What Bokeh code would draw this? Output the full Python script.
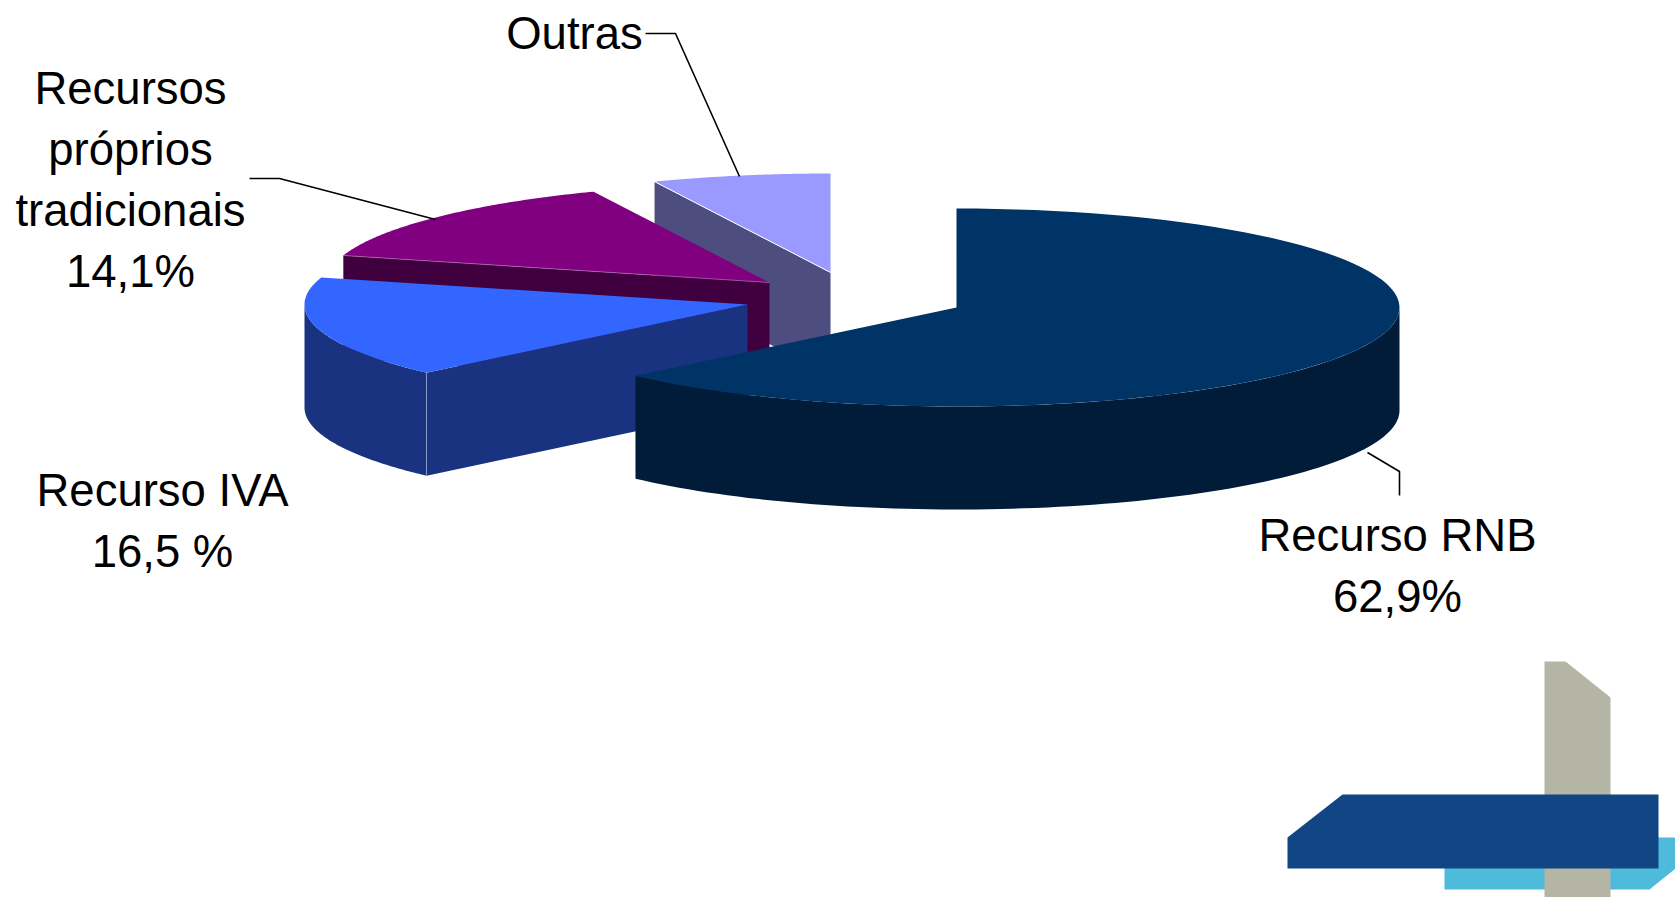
import numpy as np
from bokeh.core.properties import value
from bokeh.embed import file_html
from bokeh.models import ColumnDataSource, Range1d
from bokeh.plotting import figure
from bokeh.resources import INLINE

# Shares of the budget revenue, clockwise from twelve o'clock
categories = ["Recurso RNB", "Recurso IVA", "Recursos próprios tradicionais", "Outras"]
shares = [62.9, 16.5, 14.1, 6.5]
label_lines = [
    ["Recurso RNB", "62,9%"],
    ["Recurso IVA", "16,5 %"],
    ["Recursos", "próprios", "tradicionais", "14,1%"],
    ["Outras"],
]

top_colors = ["#003366", "#3366FF", "#800080", "#9999FF"]
side_colors = ["#001C38", "#1A3380", "#400040", "#4D4D80"]

# Projected pie: slice apex, ellipse radii and extrusion depth, in page pixels
apex = [(956, 307), (747, 304), (769, 282), (830, 272)]
RX, RY, DEPTH = 443, 99, 103
label_anchor = [(1397, 535), (162, 490), (130, 88), (574, 33)]
LINE_STEP = 61
leaders = [
    ([1367, 1399, 1399], [452, 471, 495]),
    ([], []),
    ([249, 279, 435], [178, 178, 219]),
    ([645, 675, 739], [33, 33, 176]),
]


def rim(cx, cy, start, end, n=90):
    t = np.radians(np.linspace(start, end, n))
    return cx + RX * np.sin(t), cy - RY * np.cos(t)


p = figure(width=1675, height=897, output_backend="svg", toolbar_location=None,
           x_range=Range1d(0, 1675), y_range=Range1d(897, 0),
           min_border=0, outline_line_color=None, background_fill_color="white")
p.axis.visible = False
p.grid.visible = False

# Corner decoration: three overlapping bands
p.patch([1444, 1675, 1675, 1649, 1444], [837, 837, 868, 889, 889], color="#4FBBDB", line_color=None)
p.patch([1544, 1565, 1610, 1610, 1544], [661, 661, 697, 897, 897], color="#B5B5A5", line_color=None)
p.patch([1287, 1342, 1658, 1658, 1287], [837, 794, 794, 868, 868], color="#114584", line_color=None)

edges = np.cumsum([0] + shares) / sum(shares) * 360

# Slices are painted back to front so nearer ones overlap farther ones
for i in [3, 2, 1, 0]:
    cx, cy = apex[i]
    a0, a1 = edges[i], edges[i + 1]
    xs, ys = rim(cx, cy, a0, a1)
    sx0, sy0 = xs[0], ys[0]

    # Cut face along the leading edge of the slice
    if i in (1, 2, 3):
        p.patch([sx0, cx, cx, sx0], [sy0, cy, cy + DEPTH, sy0 + DEPTH],
                color=side_colors[i], line_color=None)

    # Outer wall where the rim faces the viewer
    lo, hi = max(a0, 90), min(a1, 270)
    if lo < hi:
        wx, wy = rim(cx, cy, lo, hi)
        p.patch(np.r_[wx, wx[::-1]], np.r_[wy, wy[::-1] + DEPTH],
                color=side_colors[i], line_color=None)

    p.patch(np.r_[cx, xs], np.r_[cy, ys], color=top_colors[i], line_color=None)

    # Fine highlights on the cut edges
    if i == 3:
        p.line([sx0, cx], [sy0, cy], line_color="#FFFFFF", line_width=1)
    if i == 2:
        p.line([sx0, cx], [sy0, cy], line_color="#B070B0", line_width=0.7)
    if i == 1:
        p.line([sx0, sx0], [sy0, sy0 + DEPTH], line_color="#8A9AC8", line_width=1)

for lx, ly in leaders:
    if lx:
        p.line(lx, ly, line_color="#000000", line_width=1.6)

txt_x, txt_y, txt = [], [], []
for (ax, ay), lines in zip(label_anchor, label_lines):
    for k, line in enumerate(lines):
        txt_x.append(ax)
        txt_y.append(ay + k * LINE_STEP)
        txt.append(line)
p.text("x", "y", text="t", source=ColumnDataSource(dict(x=txt_x, y=txt_y, t=txt)),
       text_font=value("Liberation Sans"), text_font_size="45.5px", text_color="#000000",
       text_align="center", text_baseline="middle")

open("out.html", "w").write(file_html(p, INLINE))
